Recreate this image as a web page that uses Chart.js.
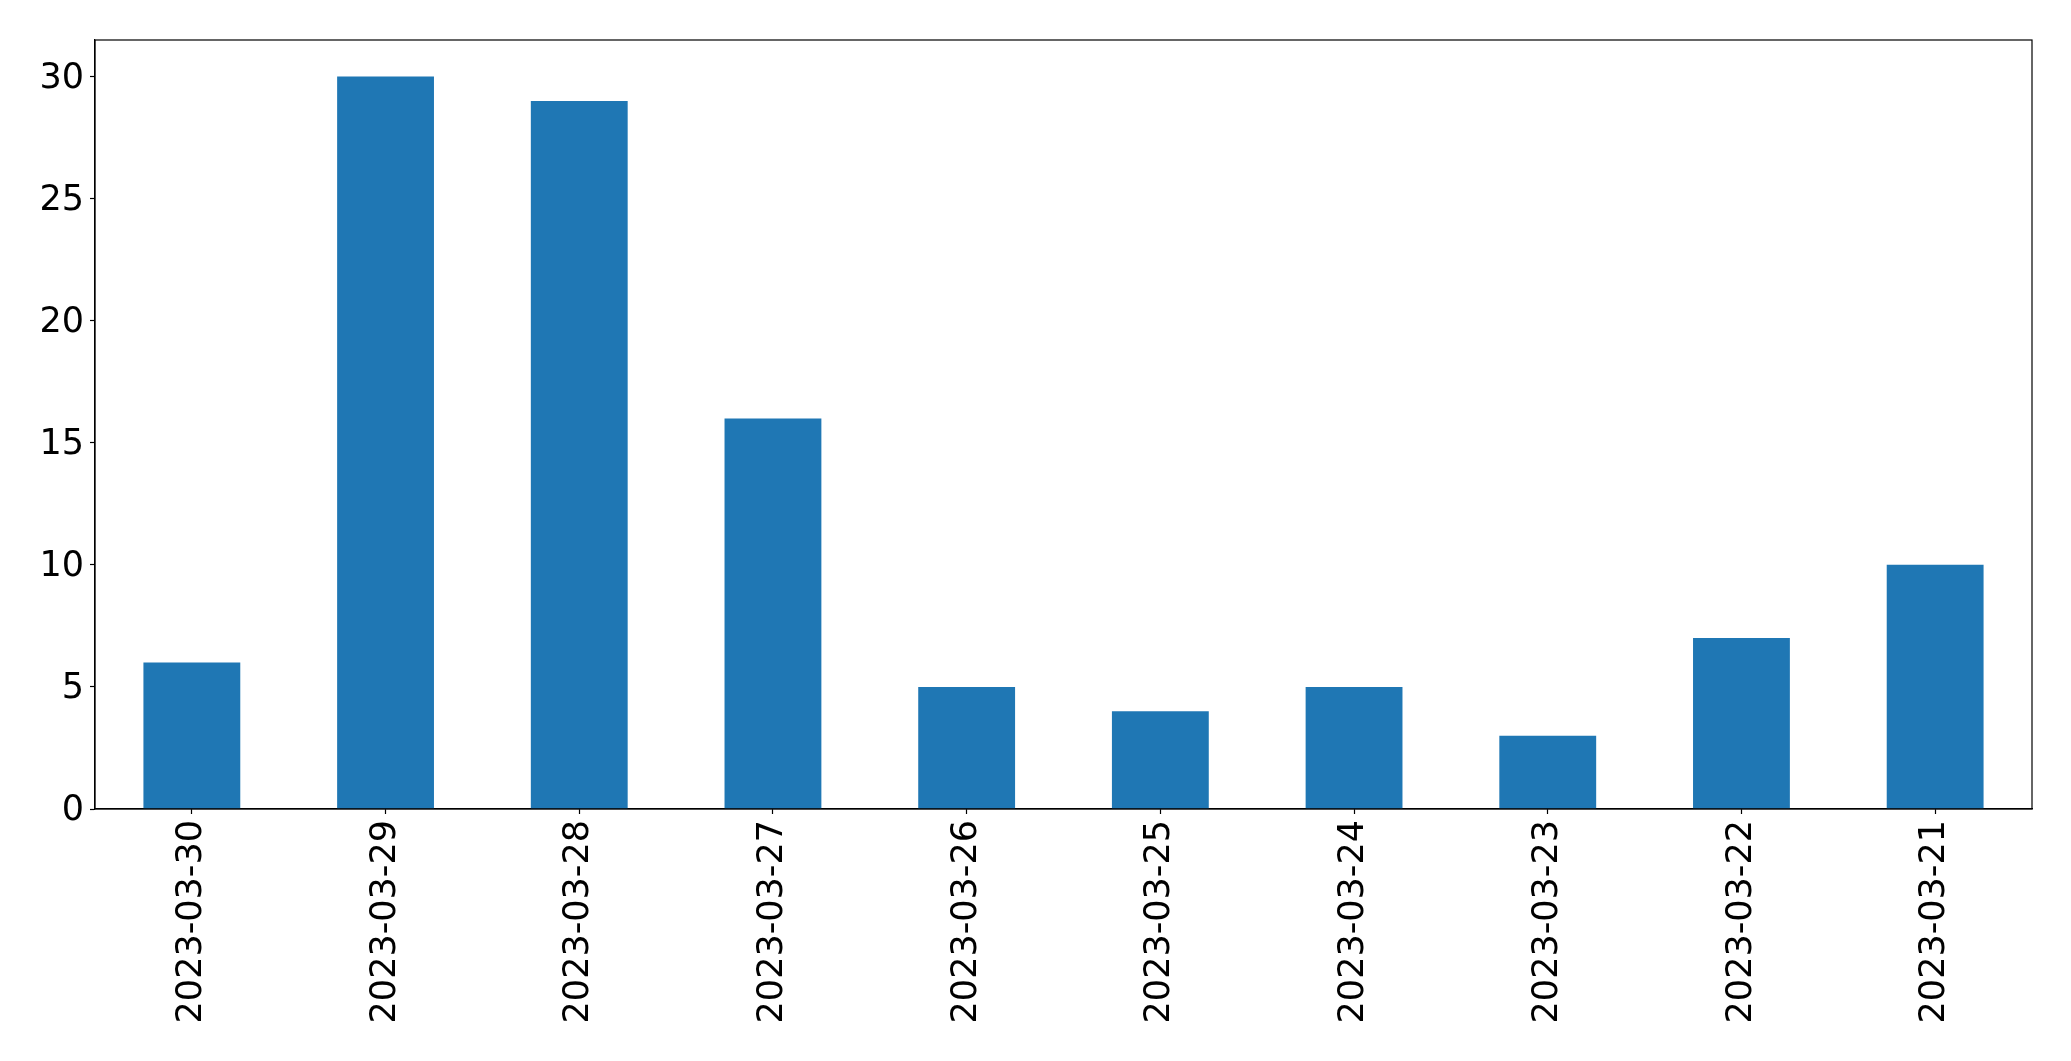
<!DOCTYPE html>
<html>
<head>
<meta charset="utf-8">
<script src="https://cdn.jsdelivr.net/npm/chart.js@4.4.0/dist/chart.umd.min.js"></script>
<style>
  html, body { margin: 0; padding: 0; background: #fff; }
  #wrap { width: 2071px; height: 1061px; }
</style>
</head>
<body>
<div id="wrap"><canvas id="chart" width="2071" height="1061"></canvas></div>
<script>
// datos del grafico
const fechas = ['2023-03-30', '2023-03-29', '2023-03-28', '2023-03-27', '2023-03-26',
                '2023-03-25', '2023-03-24', '2023-03-23', '2023-03-22', '2023-03-21'];
const valores = [6, 30, 29, 16, 5, 4, 5, 3, 7, 10];
const yTicks = [0, 5, 10, 15, 20, 25, 30];

// marco completo alrededor del area (como matplotlib)
const marco = {
    id: 'marco',
    afterDraw(chart) {
        const a = chart.chartArea;
        const ctx = chart.ctx;
        ctx.save();
        ctx.strokeStyle = '#000';
        ctx.lineWidth = 1.2;
        ctx.strokeRect(a.left, a.top, a.right - a.left, a.bottom - a.top);
        ctx.restore();
    }
};

const ctx = document.getElementById('chart').getContext('2d');
new Chart(ctx, {
    type: 'bar',
    data: {
        labels: fechas,
        datasets: [{ data: valores, backgroundColor: '#1f77b4', borderWidth: 0 }]
    },
    options: {
        responsive: false,
        animation: false,
        layout: { padding: { left: 0, right: 39, top: 40, bottom: 0 } },
        plugins: { legend: { display: false }, tooltip: { enabled: false } },
        datasets: { bar: { categoryPercentage: 1.0, barPercentage: 0.5 } },
        scales: {
            x: {
                grid: { display: true, drawOnChartArea: false, offset: false, tickLength: 5, tickColor: '#000', tickWidth: 1.2 },
                border: { display: true, color: '#000', width: 1.2 },
                ticks: {
                    color: '#000', minRotation: 90, maxRotation: 90, autoSkip: false, padding: 6,
                    font: { family: 'DejaVu Sans', size: 35 }
                },
                afterFit(scale) { scale.height = 252; }
            },
            y: {
                min: 0, max: 31.5,
                grid: { display: true, drawOnChartArea: false, tickLength: 5, tickColor: '#000', tickWidth: 1.2 },
                border: { display: true, color: '#000', width: 1.2 },
                afterBuildTicks(scale) { scale.ticks = yTicks.map(v => ({ value: v })); },
                ticks: {
                    color: '#000', padding: 6, labelOffset: 2,
                    font: { family: 'DejaVu Sans', size: 35 }
                },
                afterFit(scale) { scale.width = 95; }
            }
        }
    },
    plugins: [marco]
});
</script>
</body>
</html>
